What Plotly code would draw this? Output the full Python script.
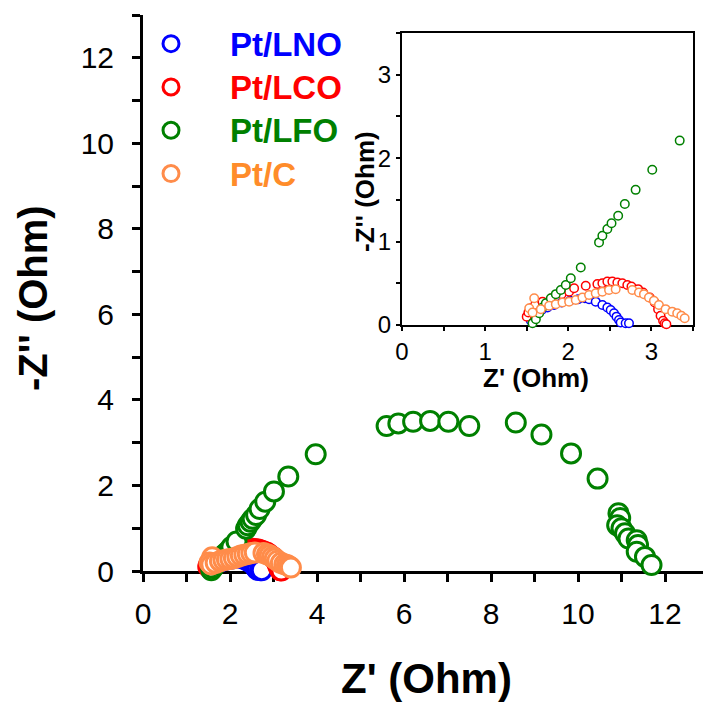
import plotly.graph_objects as go

# Nyquist data: real part Z' and negative imaginary part -Z'' (Ohm)
lno_re = [1.55, 1.58, 1.62, 1.68, 1.75, 1.83, 1.92, 2.02, 2.12, 2.20, 2.25, 2.33, 2.41, 2.47,
          2.51, 2.55, 2.58, 2.61, 2.63, 2.69, 2.73]
lno_im = [0.05, 0.10, 0.14, 0.18, 0.21, 0.24, 0.27, 0.29, 0.31, 0.32, 0.31, 0.28, 0.24, 0.21,
          0.18, 0.14, 0.10, 0.06, 0.03, 0.02, 0.02]

lco_re = [1.50, 1.52, 1.55, 1.60, 1.69, 1.80, 1.92, 2.01, 2.07, 2.21, 2.35, 2.41, 2.47, 2.53,
          2.59, 2.65, 2.71, 2.76, 2.84, 2.90, 2.98, 3.04, 3.08, 3.11, 3.14, 3.16, 3.18]
lco_im = [0.10, 0.15, 0.20, 0.24, 0.28, 0.32, 0.37, 0.40, 0.44, 0.47, 0.49, 0.50, 0.52, 0.52,
          0.51, 0.50, 0.48, 0.46, 0.43, 0.39, 0.33, 0.27, 0.19, 0.11, 0.05, 0.02, 0.01]

lfo_re = [1.57, 1.61, 1.65, 1.69, 1.73, 1.79, 1.85, 1.91, 1.97, 2.03, 2.15, 2.37, 2.41, 2.47,
          2.52, 2.60, 2.68, 2.81, 3.01, 3.34, 3.97, 5.60, 5.87, 6.21, 6.60, 7.02, 7.50, 8.57,
          9.16, 9.84, 10.45, 10.93, 10.97, 10.90, 11.00, 11.08, 11.16, 11.35, 11.38, 11.35,
          11.54, 11.69]
lfo_im = [0.02, 0.07, 0.14, 0.21, 0.26, 0.32, 0.37, 0.42, 0.48, 0.56, 0.69, 0.99, 1.07, 1.15,
          1.22, 1.31, 1.45, 1.62, 1.86, 2.21, 2.73, 3.39, 3.45, 3.49, 3.51, 3.49, 3.39, 3.47,
          3.19, 2.75, 2.16, 1.35, 1.24, 1.07, 1.00, 0.88, 0.76, 0.72, 0.61, 0.45,
          0.33, 0.14]

ptc_re = [1.59, 1.53, 1.57, 1.67, 1.77, 1.85, 1.93, 2.01, 2.09, 2.17, 2.25, 2.33, 2.41, 2.49,
          2.57, 2.77, 2.85, 2.91, 2.97, 3.03, 3.09, 3.17, 3.25, 3.31, 3.36, 3.40]
ptc_im = [0.32, 0.20, 0.15, 0.19, 0.23, 0.25, 0.27, 0.28, 0.30, 0.33, 0.36, 0.38, 0.40, 0.42,
          0.43, 0.42, 0.39, 0.37, 0.33, 0.29, 0.24, 0.19, 0.16, 0.14, 0.11, 0.08]

names = ["Pt/LNO", "Pt/LCO", "Pt/LFO", "Pt/C"]
colors = ["#0000FF", "#FF0000", "#008000", "#FF8C4A"]
label_colors = ["#0000FF", "#FF0000", "#008000", "#FF8C2A"]
series = [(lno_re, lno_im), (lco_re, lco_im), (lfo_re, lfo_im), (ptc_re, ptc_im)]

main_xticks = [0, 2, 4, 6, 8, 10, 12]
main_yticks = [0, 2, 4, 6, 8, 10, 12]
inset_ticks = [0, 1, 2, 3]

FONT = "Liberation Sans, Arial, sans-serif"
W, H = 703, 707

fig = go.Figure()

for (re, im), name, c, lc in zip(series, names, colors, label_colors):
    fig.add_trace(go.Scatter(
        x=re, y=im, mode="markers", xaxis="x", yaxis="y", cliponaxis=False,
        name=f'<span style="color:{lc};font-size:33px">{name}</span>',
        marker=dict(symbol="circle", size=19, color="white", line=dict(color=c, width=3)),
    ))
for (re, im), name, c in zip(series, names, colors):
    fig.add_trace(go.Scatter(
        x=re, y=im, mode="markers", xaxis="x2", yaxis="y2", cliponaxis=False,
        showlegend=False, name=name,
        marker=dict(symbol="circle", size=8.5, color="white", line=dict(color=c, width=1.5)),
    ))

# pixel helpers for placing axes
def px_x(p):
    return p / W

def px_y(p):
    return 1 - p / H

axis_common = dict(showgrid=False, zeroline=False, showline=True, linecolor="black",
                   ticks="outside", tickcolor="black", layer="below traces")

fig.update_layout(
    width=W, height=H,
    margin=dict(l=0, r=0, t=0, b=0, autoexpand=False),
    paper_bgcolor="white", plot_bgcolor="white",
    xaxis=dict(**axis_common, domain=[px_x(143), 1], range=[0, (W - 143) / 43.5],
               linewidth=3, tickwidth=3, ticklen=8, ticklabelstandoff=6,
               tickvals=main_xticks, ticktext=[str(v) for v in main_xticks],
               tickfont=dict(family=FONT, size=30, color="black"),
               minor=dict(dtick=1, tick0=0, ticks="outside", ticklen=8, tickwidth=3, tickcolor="black"),
               anchor="y"),
    yaxis=dict(**axis_common, domain=[px_y(571), px_y(15)], range=[0, 13],
               linewidth=3, tickwidth=3, ticklen=8, ticklabelstandoff=12,
               tickvals=main_yticks, ticktext=[str(v) for v in main_yticks],
               tickfont=dict(family=FONT, size=30, color="black"),
               minor=dict(dtick=1, tick0=0, ticks="outside", ticklen=8, tickwidth=3, tickcolor="black"),
               anchor="x"),
    xaxis2=dict(**axis_common, domain=[px_x(402), px_x(693)], range=[0, 3.5],
                linewidth=2, tickwidth=1.5, ticklen=4, mirror=True,
                tickvals=inset_ticks, ticktext=[str(v) for v in inset_ticks],
                tickfont=dict(family=FONT, size=24, color="black"),
                minor=dict(dtick=0.5, tick0=0, ticks="outside", ticklen=4, tickwidth=1.5, tickcolor="black"),
                anchor="y2"),
    yaxis2=dict(**axis_common, domain=[px_y(325), px_y(33)], range=[0, 3.5],
                linewidth=2, tickwidth=1.5, ticklen=4, mirror=True,
                tickvals=inset_ticks, ticktext=[str(v) for v in inset_ticks],
                tickfont=dict(family=FONT, size=24, color="black"),
                minor=dict(dtick=0.5, tick0=0, ticks="outside", ticklen=4, tickwidth=1.5, tickcolor="black"),
                anchor="x2"),
    showlegend=True,
    legend=dict(x=px_x(112), y=px_y(17), xanchor="left", yanchor="top",
                bgcolor="rgba(0,0,0,0)", borderwidth=0,
                font=dict(family=FONT, size=31, weight="bold"),
                itemwidth=108, tracegroupgap=0),
    annotations=[
        dict(text="Z' (Ohm)", x=px_x(426), y=px_y(678), xref="paper", yref="paper",
             showarrow=False, xanchor="center", yanchor="middle",
             font=dict(family=FONT, size=42, color="black", weight="bold")),
        dict(text="-Z'' (Ohm)", x=px_x(33), y=px_y(298), xref="paper", yref="paper",
             showarrow=False, xanchor="center", yanchor="middle", textangle=-90,
             font=dict(family=FONT, size=40, color="black", weight="bold")),
        dict(text="Z' (Ohm)", x=px_x(536), y=px_y(378), xref="paper", yref="paper",
             showarrow=False, xanchor="center", yanchor="middle",
             font=dict(family=FONT, size=26, color="black", weight="bold")),
        dict(text="-Z'' (Ohm)", x=px_x(365), y=px_y(192), xref="paper", yref="paper",
             showarrow=False, xanchor="center", yanchor="middle", textangle=-90,
             font=dict(family=FONT, size=26, color="black", weight="bold")),
    ],
)

fig.write_html("out.html")
